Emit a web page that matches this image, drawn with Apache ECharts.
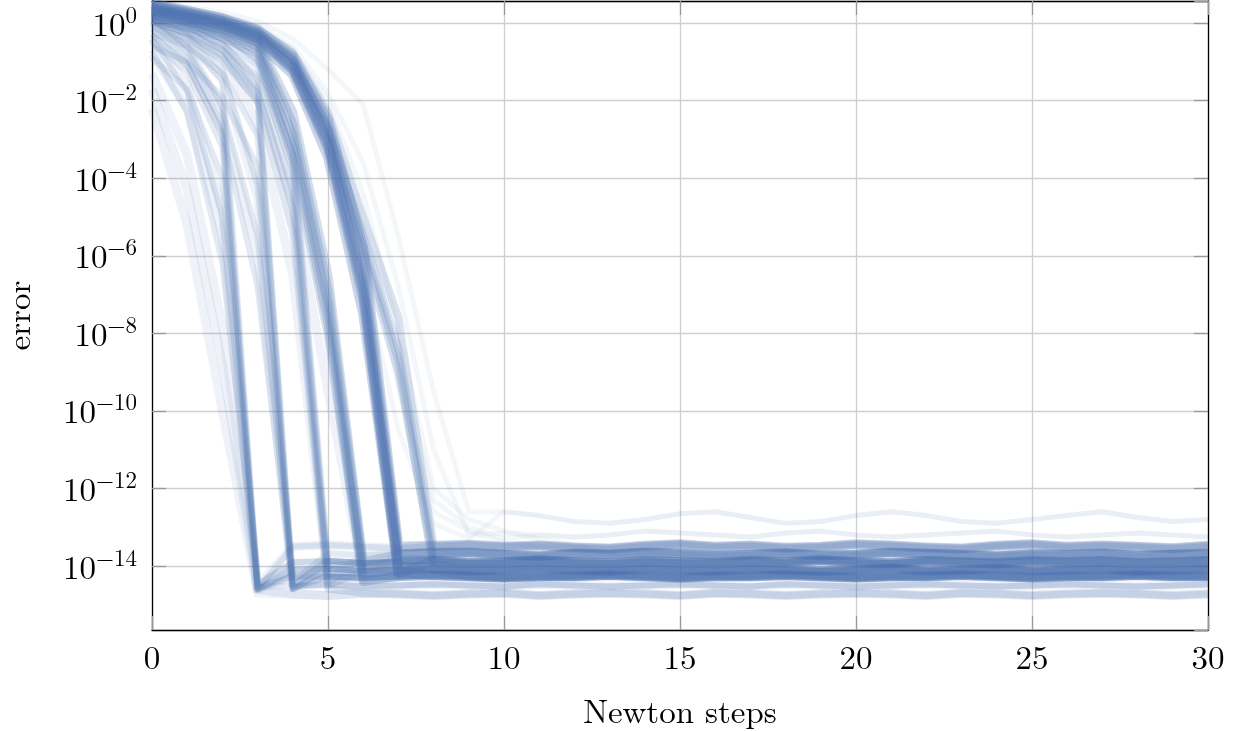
<!DOCTYPE html>
<html>
<head>
<meta charset="utf-8">
<script src="https://cdn.jsdelivr.net/npm/echarts@6/dist/echarts.min.js"></script>
<style>
  html, body { margin: 0; padding: 0; background: #fff; }
  #chart { width: 1239px; height: 731px; }
</style>
</head>
<body>
<div id="chart"></div>
<script>
// x: Newton step index
const steps = [0,1,2,3,4,5,6,7,8,9,10,11,12,13,14,15,16,17,18,19,20,21,22,23,24,25,26,27,28,29,30];
const yTickExps = [-14, -12, -10, -8, -6, -4, -2, 0];

// all values are log10(error)

// floor levels after convergence, steps 3..30
const floorA = [-13.52,-13.5,-13.46,-13.5,-13.54,-13.48,-13.45,-13.5,-13.47,-13.52,-13.55,-13.48,-13.44,-13.5,-13.47,-13.53,-13.5,-13.44,-13.47,-13.52,-13.55,-13.48,-13.44,-13.5,-13.47,-13.5,-13.54,-13.48];
const floorB = [-13.72,-13.7,-13.67,-13.72,-13.7,-13.66,-13.65,-13.7,-13.74,-13.68,-13.7,-13.65,-13.68,-13.73,-13.7,-13.67,-13.72,-13.7,-13.65,-13.68,-13.71,-13.74,-13.69,-13.7,-13.67,-13.73,-13.7,-13.68];
const floorC = [-13.92,-13.9,-13.87,-13.92,-13.9,-13.86,-13.92,-13.9,-13.85,-13.9,-13.93,-13.87,-13.9,-13.93,-13.87,-13.9,-13.85,-13.9,-13.93,-13.87,-13.9,-13.93,-13.88,-13.9,-13.87,-13.93,-13.9,-13.87];
const floorD = [-14.12,-14.1,-14.07,-14.12,-14.1,-14.07,-14.12,-14.1,-14.06,-14.1,-14.13,-14.07,-14.1,-14.13,-14.07,-14.1,-14.13,-14.1,-14.06,-14.12,-14.1,-14.07,-14.12,-14.1,-14.07,-14.13,-14.1,-14.07];
const floorE = [-14.3,-14.27,-14.27,-14.3,-14.27,-14.24,-14.27,-14.3,-14.27,-14.27,-14.24,-14.27,-14.3,-14.27,-14.27,-14.24,-14.27,-14.3,-14.27,-14.27,-14.24,-14.27,-14.3,-14.27,-14.27,-14.24,-14.27,-14.27];
const floorF = [-14.52,-14.5,-14.47,-14.52,-14.5,-14.47,-14.5,-14.53,-14.47,-14.5,-14.53,-14.5,-14.47,-14.5,-14.53,-14.47,-14.5,-14.53,-14.5,-14.47,-14.5,-14.53,-14.5,-14.47,-14.5,-14.53,-14.5,-14.47];
const floorG = [-14.7,-14.72,-14.76,-14.7,-14.72,-14.76,-14.72,-14.7,-14.76,-14.72,-14.7,-14.72,-14.76,-14.7,-14.72,-14.76,-14.72,-14.7,-14.72,-14.76,-14.7,-14.72,-14.76,-14.72,-14.7,-14.72,-14.76,-14.72];
const floorH = [-13.3,-13.25,-13.2,-13.15,-13.2,-13.25,-13.1,-13.15,-13.2,-13.25,-13.2,-13.1,-13.15,-13.2,-13.25,-13.15,-13.1,-13.2,-13.25,-13.2,-13.15,-13.1,-13.2,-13.25,-13.2,-13.15,-13.2,-13.25];
const floorI = [-12.9,-12.85,-12.8,-12.7,-12.8,-12.9,-12.75,-12.6,-12.7,-12.85,-12.9,-12.8,-12.65,-12.6,-12.75,-12.9,-12.85,-12.7,-12.6,-12.7,-12.85,-12.9,-12.8,-12.7,-12.6,-12.75,-12.85,-12.8];

// descent part of each run, from step 0 to the step where it hits the floor
const mainRuns = [
  [[0.5, 0.32, 0.12, -0.18, -0.85, -2.5, -5.8, -13.5], floorA],
  [[0.45, 0.26, 0.06, -0.26, -1.0, -2.8, -6.3, -13.7], floorB],
  [[0.38, 0.2, 0.0, -0.32, -1.1, -3.0, -6.7, -13.85], floorC],
  [[0.3, 0.12, -0.07, -0.4, -1.2, -3.2, -7.1, -14.0], floorD],
  [[0.22, 0.05, -0.14, -0.48, -1.32, -3.45, -7.5, -14.15], floorE],
  [[0.35, 0.16, -0.03, -0.36, -1.15, -3.1, -6.9, -14.2], floorC]
];
const lateRuns = [
  [[0.52, 0.34, 0.15, -0.14, -0.75, -2.3, -5.0, -7.6, -13.5], floorA],
  [[0.48, 0.3, 0.1, -0.2, -0.88, -2.6, -5.5, -8.4, -13.7], floorB],
  [[0.42, 0.24, 0.04, -0.28, -0.98, -2.85, -5.9, -9.0, -13.9], floorD],
  [[0.46, 0.28, 0.08, -0.22, -0.92, -2.7, -5.7, -8.7, -14.1], floorE]
];
const slowRuns = [
  [[0.55, 0.42, 0.28, 0.05, -0.4, -1.2, -2.1, -5.5, -9.5, -12.6], floorI],
  [[0.5, 0.36, 0.2, -0.05, -0.6, -1.8, -3.6, -6.8, -11.0, -13.2], floorH],
  [[0.42, 0.25, 0.05, -0.2, -0.8, -2.3, -5.0, -8.6, -12.3, -13.0, -13.3], floorH],
  [[0.35, 0.2, 0.0, -0.3, -1.0, -2.6, -5.4, -9.3, -12.6, -13.1, -13.4, -13.5], floorA],
  [[0.45, 0.3, 0.12, -0.12, -0.7, -2.0, -4.4, -7.9, -12.0, -12.8, -13.1, -13.3, -13.45], floorB],
  [[0.3, 0.12, -0.1, -0.45, -1.3, -3.4, -6.5, -10.5, -12.9, -13.3], floorI]
];
const sixRuns = [
  [[0.38, 0.18, -0.05, -0.45, -2.3, -6.5, -13.9], floorB],
  [[0.32, 0.12, -0.12, -0.52, -2.6, -6.9, -14.0], floorC],
  [[0.25, 0.05, -0.2, -0.6, -2.9, -7.3, -14.2], floorD],
  [[0.18, -0.02, -0.28, -0.7, -3.2, -7.7, -14.35], floorE],
  [[0.1, -0.1, -0.36, -0.8, -3.5, -8.0, -14.4], floorE]
];
const fiveRuns = [
  [[0.25, 0.0, -0.4, -1.1, -3.8, -14.2], floorD],
  [[0.15, -0.12, -0.55, -1.4, -4.3, -14.3], floorE],
  [[0.05, -0.25, -0.7, -1.7, -4.8, -14.5], floorD],
  [[-0.1, -0.4, -0.95, -2.0, -5.4, -14.6], floorG],
  [[0.3, 0.08, -0.3, -0.95, -3.4, -14.0], floorC]
];
const fourRuns = [
  [[0.2, -0.1, -0.5, -1.5, -14.4], floorB],
  [[0.05, -0.3, -0.85, -2.1, -14.6], floorE],
  [[-0.25, -0.6, -1.3, -2.9, -14.6], floorD],
  [[-0.6, -1.0, -1.9, -3.7, -14.55], floorF],
  [[0.1, -0.2, -0.7, -1.8, -14.5], floorC],
  [[0.0, -0.7, -2.2, -5.5, -14.6], floorD],
  [[-0.3, -1.1, -2.8, -6.8, -14.55], floorE],
  [[0.15, -0.3, -1.2, -4.2, -14.5], floorC]
];
const threeRuns = [
  [[-0.15, -0.9, -2.6, -14.6], floorE],
  [[-0.5, -1.25, -3.2, -14.6], floorD],
  [[-0.9, -1.7, -4.0, -14.55], floorF],
  [[0.05, -0.6, -2.1, -14.45], floorC],
  [[-0.3, -1.05, -2.9, -14.6], floorA],
  [[-0.4, -1.8, -5.0, -14.6], floorD],
  [[-0.7, -2.3, -6.2, -14.55], floorE],
  [[0.1, -0.5, -1.5, -14.5], floorC]
];
const faintRuns = [
  [[-1.3, -3.4, -7.8, -14.6], floorG],
  [[-2.2, -5.2, -10.0, -14.7], floorG],
  [[-0.8, -2.2, -5.5, -14.5], floorA],
  [[0.1, -0.4, -1.4, -4.5, -14.5], floorF],
  [[0.25, -0.15, -0.9, -2.6, -6.5, -14.4], floorB],
  [[-1.7, -4.3, -8.8, -14.6], floorE],
  [[0.0, -0.8, -2.5, -6.0, -14.5], floorC],
  [[-0.4, -1.6, -4.8, -14.6], floorD],
  [[0.3, 0.0, -0.6, -1.9, -4.6, -9.5, -14.3], floorB]
];

const BLUE = '#4c72b0';
const FONT = "'Latin Modern Roman', 'CMU Serif', 'Liberation Serif', serif";

function buildSeries(runs, width, opacity) {
  return runs.map(function (r) {
    const head = r[0];
    const vals = head.concat(r[1].slice(head.length - 3));
    return {
      type: 'line',
      data: vals.map(function (v, i) { return [steps[i], v]; }),
      showSymbol: false,
      symbol: 'none',
      silent: true,
      animation: false,
      lineStyle: { color: BLUE, width: width, opacity: opacity, join: 'round', cap: 'butt' }
    };
  });
}

const series = [].concat(
  buildSeries(faintRuns, 9, 0.09),
  buildSeries(slowRuns, 5, 0.06),
  buildSeries(threeRuns, 6, 0.15),
  buildSeries(fourRuns, 6, 0.15),
  buildSeries(fiveRuns, 7, 0.18),
  buildSeries(sixRuns, 9, 0.25),
  buildSeries(lateRuns, 8, 0.2),
  buildSeries(mainRuns, 10, 0.3)
);

function yLabel(v) {
  const e = Math.round(v);
  if (Math.abs(v - e) > 1e-6 || yTickExps.indexOf(e) < 0) return '';
  const sup = e < 0 ? '\u2212' + (-e) : String(e);
  return '{b|10}{s|' + sup + '}';
}

const chart = echarts.init(document.getElementById('chart'), null, { renderer: 'canvas' });

const yBase = {
  type: 'value',
  min: -15.65,
  max: 0.57,
  splitNumber: 8,
  axisLine: { show: true, onZero: false, lineStyle: { color: '#000', width: 1.3 } },
  axisTick: { show: true, inside: true, length: 14, lineStyle: { color: '#999', width: 1.3 } }
};

chart.setOption({
  backgroundColor: '#fff',
  animation: false,
  grid: { left: 152, right: 31, top: 1, bottom: 101, containLabel: false, outerBoundsMode: 'none' },
  xAxis: [
    {
      type: 'value',
      min: 0,
      max: 30,
      interval: 5,
      position: 'bottom',
      name: 'Newton steps',
      nameLocation: 'middle',
      nameGap: 66,
      nameTextStyle: { fontFamily: FONT, fontSize: 33, color: '#000' },
      axisLine: { show: true, onZero: false, lineStyle: { color: '#000', width: 1.3 } },
      axisTick: { show: true, inside: true, length: 14, lineStyle: { color: '#999', width: 1.3 } },
      axisLabel: { fontFamily: FONT, fontSize: 33, color: '#000', margin: 12 },
      splitLine: { show: true, lineStyle: { color: '#cfcfcf', width: 1.3 } }
    },
    {
      type: 'value',
      min: 0,
      max: 30,
      interval: 5,
      position: 'top',
      axisLine: { show: true, onZero: false, lineStyle: { color: '#000', width: 1.3 } },
      axisTick: { show: true, inside: true, length: 14, lineStyle: { color: '#999', width: 1.3 } },
      axisLabel: { show: false },
      splitLine: { show: false }
    }
  ],
  yAxis: [
    Object.assign({}, yBase, {
      position: 'left',
      name: 'error',
      nameLocation: 'middle',
      nameGap: 116,
      nameRotate: 90,
      nameTextStyle: { fontFamily: FONT, fontSize: 33, color: '#000' },
      axisLabel: {
        margin: 15,
        showMinLabel: false,
        showMaxLabel: false,
        formatter: yLabel,
        rich: {
          b: { fontFamily: FONT, fontSize: 33, color: '#000', verticalAlign: 'bottom' },
          s: { fontFamily: FONT, fontSize: 23, color: '#000', verticalAlign: 'bottom', padding: [0, 0, 15, 0] }
        }
      },
      splitLine: { show: true, lineStyle: { color: '#cfcfcf', width: 1.3 } }
    }),
    Object.assign({}, yBase, {
      position: 'right',
      axisLabel: { show: false },
      splitLine: { show: false }
    })
  ],
  series: series
});
</script>
</body>
</html>
